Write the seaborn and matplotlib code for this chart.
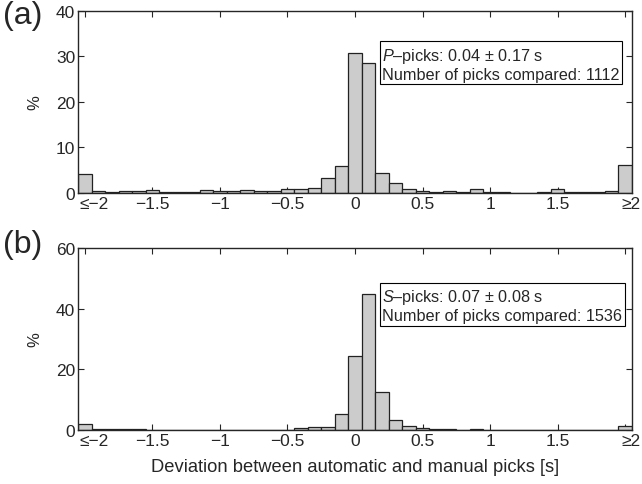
import numpy as np
import pandas as pd
import matplotlib
matplotlib.use('Agg')
import matplotlib.pyplot as plt
import matplotlib.transforms as mtransforms
import seaborn as sns

# bin centres (0.1 s wide, outer bins collect <=-2 and >=2)
centres = np.round(np.arange(-2.0, 2.01, 0.1), 2)

# P-picks, % per bin
p_pct = [4.2, 0.4, 0.25, 0.4, 0.4, 0.65, 0.2, 0.15, 0.2, 0.7,
         0.5, 0.5, 0.7, 0.45, 0.45, 0.8, 0.8, 1.0, 3.2, 5.9,
         30.8, 28.6, 4.5, 2.3, 0.8, 0.4, 0.15, 0.4, 0.2, 0.8,
         0.2, 0.15, 0.1, 0.1, 0.2, 0.8, 0.15, 0.15, 0.2, 0.4,
         6.1]

# S-picks, % per bin
s_pct = [1.9, 0.2, 0.3, 0.2, 0.2, 0.1, 0.05, 0.05, 0.1, 0.05,
         0.05, 0.05, 0.1, 0.1, 0.05, 0.1, 0.55, 0.9, 0.9, 5.2,
         24.3, 44.7, 12.5, 3.3, 1.2, 0.66, 0.35, 0.2, 0.1, 0.2,
         0.1, 0.1, 0.05, 0.05, 0.05, 0.05, 0.05, 0.1, 0.1, 0.1,
         1.2]

xticks = [-2, -1.5, -1, -0.5, 0, 0.5, 1, 1.5, 2]
xticklabels = ['≤−2', '−1.5', '−1', '−0.5', '0', '0.5', '1', '1.5', '≥2']

p_text = '$\\it{P}$–picks: 0.04 ± 0.17 s\nNumber of picks compared: 1112'
s_text = '$\\it{S}$–picks: 0.07 ± 0.08 s\nNumber of picks compared: 1536'
xlabel = 'Deviation between automatic and manual picks [s]'

sns.set_style('ticks')
plt.rcParams['font.family'] = ['Liberation Sans', 'DejaVu Sans']
plt.rcParams['mathtext.fontset'] = 'custom'
plt.rcParams['mathtext.rm'] = 'Liberation Sans'
plt.rcParams['mathtext.it'] = 'Liberation Sans:italic'
plt.rcParams['xtick.direction'] = 'in'
plt.rcParams['ytick.direction'] = 'in'

df = pd.DataFrame({'dev': centres, 'P': p_pct, 'S': s_pct})

fig = plt.figure(figsize=(6.42, 4.85), dpi=100)
ax1 = fig.add_axes([0.1215, 0.6, 0.8629, 0.3753])
ax2 = fig.add_axes([0.1215, 0.1113, 0.8629, 0.3753])

panels = [(ax1, 'P', 40, [0, 10, 20, 30, 40], p_text, 0.81, '(a)', 0.998),
          (ax2, 'S', 60, [0, 20, 40, 60], s_text, 0.786, '(b)', 0.526)]

shift_left = mtransforms.ScaledTranslation(-5 / 100, 0, fig.dpi_scale_trans)
shift_right = mtransforms.ScaledTranslation(15 / 100, 0, fig.dpi_scale_trans)

for ax, col, ymax, yt, txt, ty, lab, ly in panels:
    sns.histplot(data=df, x='dev', weights=col, bins=41, binrange=(-2.05, 2.05),
                 stat='count', color='#cccccc', edgecolor='#222222',
                 linewidth=0.9, alpha=1, ax=ax)
    ax.set_xlim(-2.05, 2.05)
    ax.set_ylim(0, ymax)
    ax.set_xticks(xticks)
    ax.set_xticklabels(xticklabels)
    ax.set_yticks(yt)
    ax.tick_params(labelsize=12.5, length=4, width=0.8, top=True, right=True, pad=2)
    tl = ax.get_xticklabels()
    tl[0].set_ha('left')
    tl[0].set_transform(tl[0].get_transform() + shift_left)
    tl[-1].set_ha('right')
    tl[-1].set_transform(tl[-1].get_transform() + shift_right)
    for s in ax.spines.values():
        s.set_linewidth(1.0)
        s.set_visible(True)
    ax.set_ylabel('%', fontsize=12, labelpad=10)
    ax.set_xlabel('')
    ax.text(0.549, ty, txt, transform=ax.transAxes, ha='left', va='top',
            fontsize=11.7, linespacing=1.2,
            bbox=dict(boxstyle='square,pad=0.15', fc='white', ec='black', lw=0.8))
    fig.text(0.005, ly, lab, fontsize=23, va='top', ha='left')

ax2.set_xlabel(xlabel, fontsize=13.2, labelpad=7)

plt.savefig('out.png', dpi=100)
